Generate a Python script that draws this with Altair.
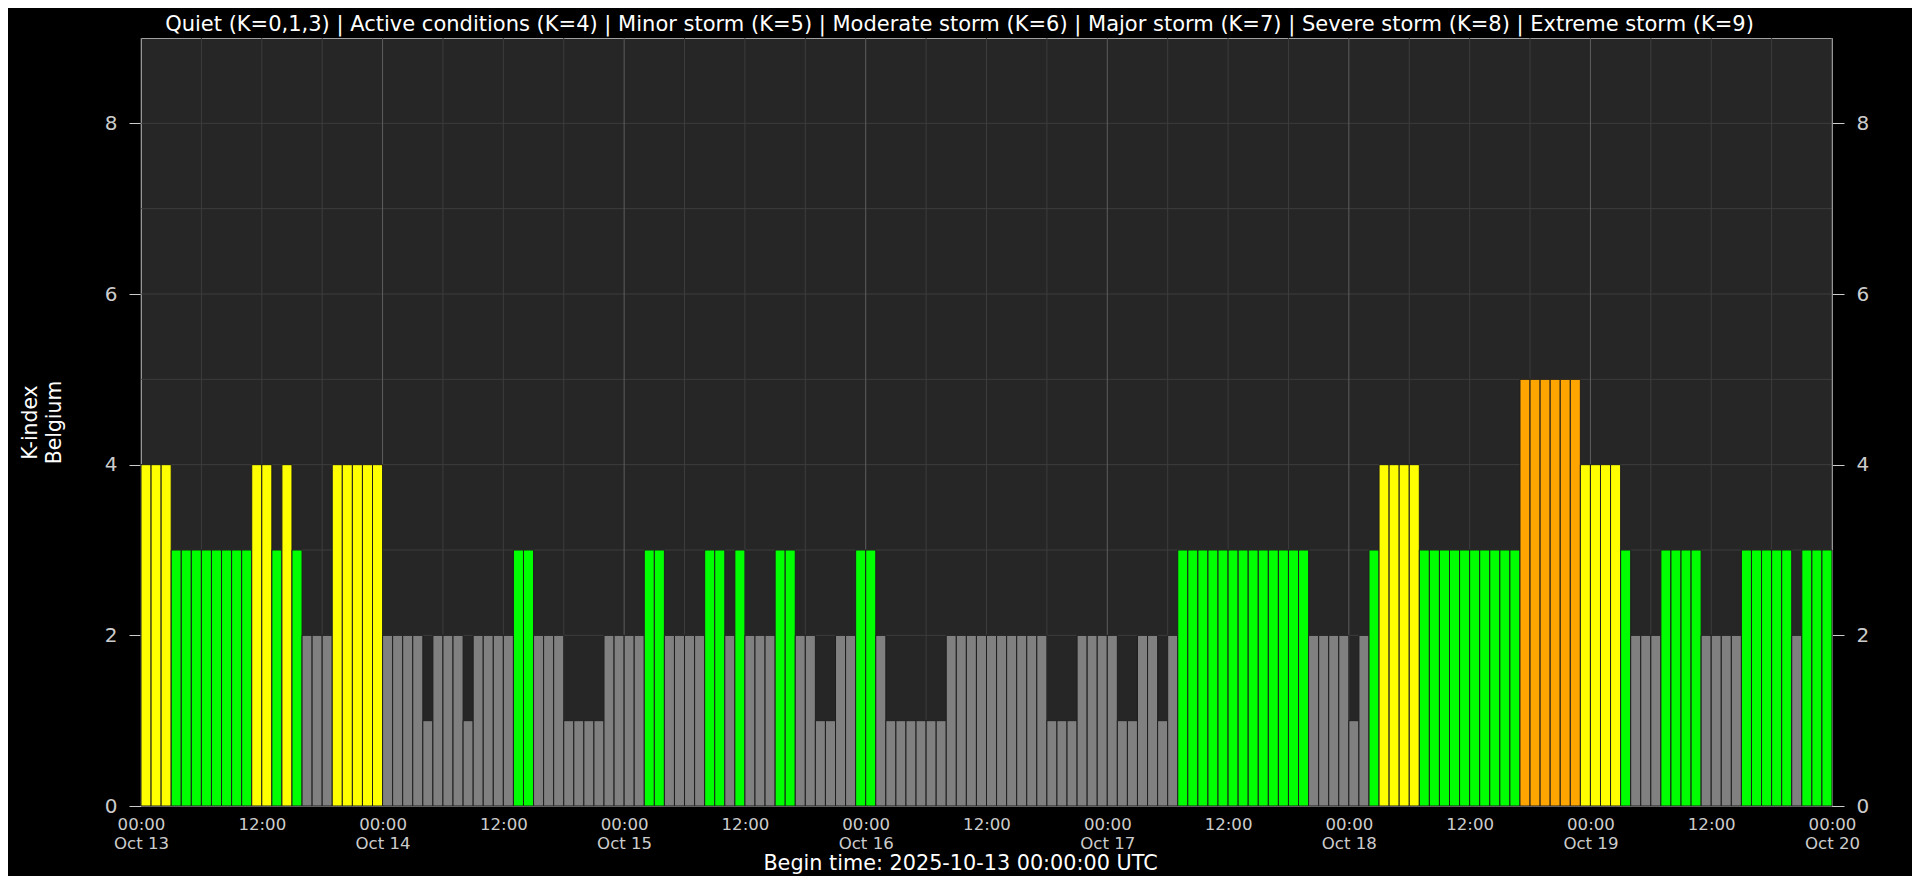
import json
import altair as alt
import pandas as pd

# ---- data (hourly K-index, Belgium) ----
day_labels = ["Oct 13", "Oct 14", "Oct 15", "Oct 16", "Oct 17", "Oct 18", "Oct 19", "Oct 20"]
k_oct13 = [4, 4, 4, 3, 3, 3, 3, 3, 3, 3, 3, 4, 4, 3, 4, 3, 2, 2, 2, 4, 4, 4, 4, 4]
k_oct14 = [2, 2, 2, 2, 1, 2, 2, 2, 1, 2, 2, 2, 2, 3, 3, 2, 2, 2, 1, 1, 1, 1, 2, 2]
k_oct15 = [2, 2, 3, 3, 2, 2, 2, 2, 3, 3, 2, 3, 2, 2, 2, 3, 3, 2, 2, 1, 1, 2, 2, 3]
k_oct16 = [3, 2, 1, 1, 1, 1, 1, 1, 2, 2, 2, 2, 2, 2, 2, 2, 2, 2, 1, 1, 1, 2, 2, 2]
k_oct17 = [2, 1, 1, 2, 2, 1, 2, 3, 3, 3, 3, 3, 3, 3, 3, 3, 3, 3, 3, 3, 2, 2, 2, 2]
k_oct18 = [1, 2, 3, 4, 4, 4, 4, 3, 3, 3, 3, 3, 3, 3, 3, 3, 3, 5, 5, 5, 5, 5, 5, 4]
k_oct19 = [4, 4, 4, 3, 2, 2, 2, 3, 3, 3, 3, 2, 2, 2, 2, 3, 3, 3, 3, 3, 2, 3, 3, 3]

k_levels = [0, 1, 2, 3, 4, 5, 6, 7, 8, 9]
k_colors = ["#808080", "#808080", "#808080", "#00ff00", "#ffff00", "#ffa500",
            "#ff0000", "#c00000", "#800080", "#400040"]
y_ticks = [0, 2, 4, 6, 8]
y_grid = [1, 2, 3, 4, 5, 6, 7, 8]
x_ticks = list(range(0, 169, 12))
title_text = ("Quiet (K=0,1,3) | Active conditions (K=4) | Minor storm (K=5) | "
              "Moderate storm (K=6) | Major storm (K=7) | Severe storm (K=8) | Extreme storm (K=9)")
x_title = "Begin time: 2025-10-13 00:00:00 UTC"

k_all = k_oct13 + k_oct14 + k_oct15 + k_oct16 + k_oct17 + k_oct18 + k_oct19
n_hours = len(k_all)
bars = pd.DataFrame({"start": list(range(n_hours)),
                     "end": [h + 1 for h in range(n_hours)],
                     "k": k_all})

vlines = pd.DataFrame({"start": list(range(0, n_hours + 1, 6))})
vlines["day"] = vlines["start"] % 24 == 0
hlines = pd.DataFrame({"k": y_grid})

FONT = "DejaVu Sans"
xscale = alt.Scale(domain=[0, n_hours], nice=False, zero=False)
yscale = alt.Scale(domain=[0, 9], nice=False)

label_expr = ("datum.value % 24 == 0 ? ['00:00', " + json.dumps(day_labels) +
              "[datum.value / 24]] : '12:00'")

x_axis = alt.Axis(values=x_ticks, labelExpr=label_expr, ticks=False, domain=False,
                  grid=False, labelFont=FONT, labelFontSize=16.6, labelColor="#cccccc",
                  labelPadding=10, labelLineHeight=19, labelOverlap=False,
                  labelBound=False, labelFlush=False, orient="bottom",
                  title=x_title, titleFont=FONT, titleFontSize=20.75,
                  titleFontWeight="normal", titleColor="#ffffff", titlePadding=1.5,
                  titleX=819, titleAlign="center")

y_axis_left = alt.Axis(values=y_ticks, orient="left", grid=False, tickSize=12,
                       tickColor="#cccccc", domainColor="#cccccc", labelFont=FONT,
                       labelFontSize=20, labelColor="#cccccc", labelPadding=12,
                       title=["K-index", "Belgium"], titleFont=FONT, titleFontSize=20.4,
                       titleFontWeight="normal", titleColor="#ffffff", titlePadding=40,
                       titleLineHeight=24)
y_axis_right = alt.Axis(values=y_ticks, orient="right", grid=False, tickSize=12,
                        tickColor="#cccccc", domainColor="#cccccc", labelFont=FONT,
                        labelFontSize=20, labelColor="#cccccc", labelPadding=12,
                        title=None)

hgrid = alt.Chart(hlines).mark_rule(color="#3d3d3d", strokeWidth=1).encode(
    y=alt.Y("k:Q", scale=yscale, axis=y_axis_right)
)

vgrid = alt.Chart(vlines).mark_rule(strokeWidth=1).encode(
    x=alt.X("start:Q", scale=xscale, axis=x_axis),
    color=alt.Color("day:N", scale=alt.Scale(domain=[False, True],
                                              range=["#3d3d3d", "#5e5e5e"]), legend=None),
)

bar_layer = alt.Chart(bars).mark_bar(stroke="#1e1e1e", strokeWidth=1).encode(
    x=alt.X("start:Q", scale=xscale, axis=x_axis),
    x2="end:Q",
    y=alt.Y("k:Q", scale=yscale, axis=y_axis_left),
    y2=alt.datum(0),
    fill=alt.Fill("k:O", scale=alt.Scale(domain=k_levels, range=k_colors), legend=None),
)

chart = alt.layer(hgrid, vgrid, bar_layer).resolve_axis(y="independent").resolve_scale(
    color="independent", fill="independent"
).properties(
    width=1691,
    height=768,
    autosize=alt.AutoSizeParams(type="none"),
    padding={"left": 133, "top": 30, "right": 80, "bottom": 70},
    background="#000000",
    title=alt.TitleParams(title_text, font=FONT, fontSize=21.0, fontWeight="normal",
                          color="#ffffff", anchor="middle", dx=-27, offset=3),
).configure_view(fill="#262626", stroke="#a0a0a0", strokeWidth=1)

chart.save("out.html", embed_options={"renderer": "svg", "actions": False})
